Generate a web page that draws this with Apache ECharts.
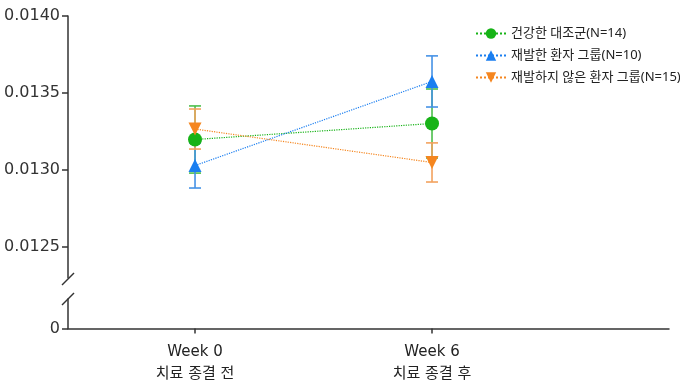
<!DOCTYPE html>
<html>
<head>
<meta charset="utf-8">
<script src="https://cdn.jsdelivr.net/npm/echarts@6/dist/echarts.min.js"></script>
<style>html,body{margin:0;padding:0;background:#fff;}#c{width:680px;height:388px;}</style>
</head>
<body>
<div id="c"></div>
<script>
var categories = ['Week 0\n치료 종결 전', 'Week 6\n치료 종결 후'];
var xPos = [0, 1];
var seriesNames = ['건강한 대조군(N=14)', '재발한 환자 그룹(N=10)', '재발하지 않은 환자 그룹(N=15)'];
var healthyMean = [0.013198, 0.013302];
var healthyErr = [0.000218, 0.000224];
var relapseMean = [0.013029, 0.013575];
var relapseErr = [0.000146, 0.000166];
var nonRelapseMean = [0.013266, 0.013049];
var nonRelapseErr = [0.00013, 0.000127];
var yTicks = [0.0125, 0.0130, 0.0135, 0.0140];

var FONT = "'DejaVu Sans', 'Noto Sans CJK KR', sans-serif";
var LFONT = "'Noto Sans', 'Noto Sans CJK KR', sans-serif";
var colors = ['#17b317', '#1a7ef0', '#f5861f'];
var barColors = ['#4cbe4c', '#4592e6', '#f3a25e'];
var symbols = ['circle', 'triangle', 'triangle'];
var rotates = [0, 0, 180];
var means = [healthyMean, relapseMean, nonRelapseMean];
var errs = [healthyErr, relapseErr, nonRelapseErr];

var chart = echarts.init(document.getElementById('c'), null, {renderer: 'canvas'});

var series = [];
for (var s = 0; s < 3; s++) {
  (function (s) {
    series.push({
      type: 'custom',
      xAxisIndex: 0, yAxisIndex: 0,
      z: 1,
      silent: true,
      encode: {x: 0, y: [1, 2, 3]},
      data: xPos.map(function (x, i) { return [x, means[s][i], means[s][i] + errs[s][i], means[s][i] - errs[s][i]]; }),
      renderItem: function (params, api) {
        var top = api.coord([api.value(0), api.value(2)]);
        var bot = api.coord([api.value(0), api.value(3)]);
        var hw = 6;
        var st = {stroke: barColors[s], lineWidth: 1.6};
        return {type: 'group', children: [
          {type: 'line', shape: {x1: top[0], y1: top[1], x2: bot[0], y2: bot[1]}, style: st},
          {type: 'line', shape: {x1: top[0] - hw, y1: top[1], x2: top[0] + hw, y2: top[1]}, style: st},
          {type: 'line', shape: {x1: bot[0] - hw, y1: bot[1], x2: bot[0] + hw, y2: bot[1]}, style: st}
        ]};
      }
    });
  })(s);
}
for (var s2 = 0; s2 < 3; s2++) {
  series.push({
    name: seriesNames[s2],
    type: 'line',
    xAxisIndex: 0, yAxisIndex: 0,
    z: 3,
    data: xPos.map(function (x, i) { return [x, means[s2][i]]; }),
    symbol: symbols[s2],
    symbolSize: s2 === 0 ? 14 : 13,
    symbolRotate: rotates[s2],
    itemStyle: {color: colors[s2]},
    lineStyle: {type: 'dotted', width: 1.2, color: colors[s2]},
    emphasis: {disabled: true},
    animation: false
  });
}

var axisCol = '#333';
var option = {
  animation: false,
  backgroundColor: '#fff',
  textStyle: {fontFamily: FONT},
  legend: {
    orient: 'vertical',
    left: 470, top: 22,
    itemWidth: 30, itemHeight: 13,
    itemGap: 9,
    textStyle: {fontSize: 13, color: '#222', fontFamily: LFONT},
    data: seriesNames
  },
  grid: [
    {left: 68, right: 11, top: 16, height: 261.8},
    {left: 68, right: 11, top: 299, height: 29.5}
  ],
  xAxis: [
    {type: 'value', gridIndex: 0, min: -0.536, max: 2, show: false},
    {type: 'value', gridIndex: 1, min: -0.536, max: 2,
      splitLine: {show: false},
      axisLine: {show: true, onZero: false, lineStyle: {color: axisCol, width: 1.5}},
      axisTick: {show: true, length: 5, customValues: xPos, lineStyle: {color: axisCol, width: 1.5}},
      axisLabel: {customValues: xPos, margin: 13, fontSize: 15, lineHeight: 22, color: '#222', fontFamily: FONT,
        formatter: function (v) { var i = xPos.indexOf(Math.round(v)); return i >= 0 ? categories[i] : ''; }}
    }
  ],
  yAxis: [
    {type: 'value', gridIndex: 0, min: 0.0123, max: 0.014,
      splitLine: {show: false},
      axisLine: {show: true, onZero: false, lineStyle: {color: axisCol, width: 1.5}},
      axisTick: {show: true, length: 6, customValues: yTicks, lineStyle: {color: axisCol, width: 1.5}},
      axisLabel: {customValues: yTicks, margin: 8, fontSize: 16, color: '#333', fontFamily: FONT,
        formatter: function (v) { return v.toFixed(4); }}
    },
    {type: 'value', gridIndex: 1, min: 0, max: 1,
      splitLine: {show: false},
      axisLine: {show: true, onZero: false, lineStyle: {color: axisCol, width: 1.5}},
      axisTick: {show: true, length: 6, customValues: [0], lineStyle: {color: axisCol, width: 1.5}},
      axisLabel: {customValues: [0], margin: 8, fontSize: 16, color: '#333', fontFamily: FONT}
    }
  ],
  graphic: [
    {type: 'line', shape: {x1: 62, y1: 285, x2: 74, y2: 273}, style: {stroke: axisCol, lineWidth: 1.5}},
    {type: 'line', shape: {x1: 62, y1: 305, x2: 74, y2: 293}, style: {stroke: axisCol, lineWidth: 1.5}}
  ],
  series: series
};
chart.setOption(option);
</script>
</body>
</html>
